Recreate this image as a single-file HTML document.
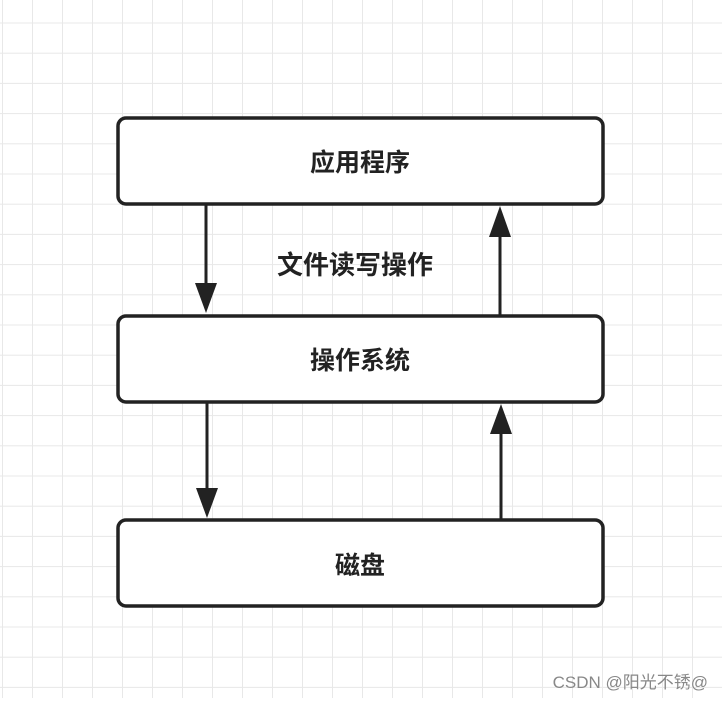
<!DOCTYPE html>
<html><head><meta charset="utf-8"><style>
html,body{margin:0;padding:0;background:#fff}
</style></head><body>
<svg width="722" height="698" xmlns="http://www.w3.org/2000/svg">
<defs>
<pattern id="g" x="2" y="22.5" width="30" height="30.2" patternUnits="userSpaceOnUse">
<path d="M0 0V30.2M0 0H30" stroke="#e8e8e8" stroke-width="2" fill="none"/>
</pattern>
</defs>
<rect width="722" height="698" fill="url(#g)"/>
<g fill="#fff" stroke="#222" stroke-width="3.5">
<rect x="118" y="118" width="485" height="86" rx="8"/>
<rect x="118" y="316" width="485" height="86" rx="8"/>
<rect x="118" y="520" width="485" height="86" rx="8"/>
</g>
<g stroke="#222" stroke-width="3" fill="#222">
<line x1="206" y1="205" x2="206" y2="285"/>
<polygon points="195,283 217,283 206,313" stroke="none"/>
<line x1="500" y1="315" x2="500" y2="235"/>
<polygon points="489,237 511,237 500,206" stroke="none"/>
<line x1="207" y1="403" x2="207" y2="490"/>
<polygon points="196,488 218,488 207,518" stroke="none"/>
<line x1="501" y1="519" x2="501" y2="432"/>
<polygon points="490,434 512,434 501,404" stroke="none"/>
</g>
<g font-family="'Liberation Sans','Noto Sans CJK SC',sans-serif" font-weight="bold" font-size="25" fill="#222" text-anchor="middle">
<text x="360" y="171">应用程序</text>
<text x="355" y="274" font-size="26">文件读写操作</text>
<text x="360" y="369">操作系统</text>
<text x="360" y="574">磁盘</text>
</g>
<text x="708" y="688" text-anchor="end" font-family="'Liberation Sans','Noto Sans CJK SC',sans-serif" font-size="17" fill="#888">CSDN @阳光不锈@</text>
</svg>
</body></html>
